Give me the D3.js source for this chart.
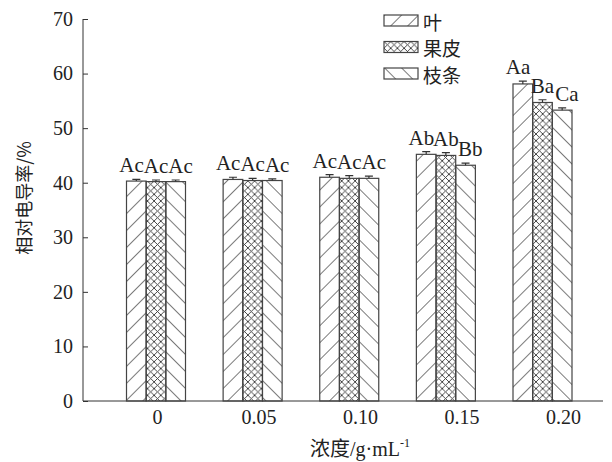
<!DOCTYPE html>
<html>
<head>
<meta charset="utf-8">
<script src="https://cdn.jsdelivr.net/npm/d3@7"></script>
<style>
  body { margin: 0; background: #fff; }
  svg { display: block; }
</style>
</head>
<body>
<svg id="chart" width="612" height="462"></svg>
<script>
// Data
const categories = ["0", "0.05", "0.10", "0.15", "0.20"];
const seriesNames = ["叶", "果皮", "枝条"];
const leafValues = [40.3, 40.6, 41.0, 45.2, 58.1];
const peelValues = [40.2, 40.4, 40.8, 45.0, 54.7];
const branchValues = [40.2, 40.4, 40.8, 43.2, 53.3];
const leafErrors = [0.3, 0.4, 0.5, 0.5, 0.5];
const peelErrors = [0.3, 0.4, 0.5, 0.5, 0.5];
const branchErrors = [0.3, 0.3, 0.4, 0.4, 0.4];
const leafLetters = ["Ac", "Ac", "Ac", "Ab", "Aa"];
const peelLetters = ["Ac", "Ac", "Ac", "Ab", "Ba"];
const branchLetters = ["Ac", "Ac", "Ac", "Bb", "Ca"];
const yTicks = [0, 10, 20, 30, 40, 50, 60, 70];

const series = [
  { name: seriesNames[0], values: leafValues, errors: leafErrors, letters: leafLetters, pattern: "url(#hatch-fwd)" },
  { name: seriesNames[1], values: peelValues, errors: peelErrors, letters: peelLetters, pattern: "url(#hatch-cross)" },
  { name: seriesNames[2], values: branchValues, errors: branchErrors, letters: branchLetters, pattern: "url(#hatch-back)" }
];

const ink = "#333";
const serif = "'Liberation Serif', 'Times New Roman', serif";
const cjk = "'Noto Sans CJK SC', 'Noto Sans', sans-serif";

const svg = d3.select("#chart");

// Hatch patterns
const defs = svg.append("defs");
defs.append("pattern")
  .attr("id", "hatch-fwd")
  .attr("patternUnits", "userSpaceOnUse")
  .attr("width", 12).attr("height", 12)
  .attr("patternTransform", "rotate(45)")
  .append("line")
  .attr("x1", 0).attr("y1", 0).attr("x2", 0).attr("y2", 12)
  .attr("stroke", ink).attr("stroke-width", 1.3);

defs.append("pattern")
  .attr("id", "hatch-back")
  .attr("patternUnits", "userSpaceOnUse")
  .attr("width", 12).attr("height", 12)
  .attr("patternTransform", "rotate(-45)")
  .append("line")
  .attr("x1", 0).attr("y1", 0).attr("x2", 0).attr("y2", 12)
  .attr("stroke", ink).attr("stroke-width", 1.3);

const cross = defs.append("pattern")
  .attr("id", "hatch-cross")
  .attr("patternUnits", "userSpaceOnUse")
  .attr("width", 6.7).attr("height", 6.7);
cross.append("path")
  .attr("d", "M0,0L6.7,6.7M0,6.7L6.7,0")
  .attr("stroke", ink).attr("stroke-width", 0.9)
  .attr("fill", "none");

// Scales (tick labels in the source sit slightly right of the bar groups)
const y = d3.scaleLinear().domain([0, 70]).range([401, 19]);
const x = d3.scalePoint().domain(categories).range([156, 542.5]);
const xLabel = d3.scalePoint().domain(categories).range([157, 563]);
const xInner = d3.scaleBand().domain(seriesNames).range([-29.5, 29.5]);
const letterStep = 24.5;

// Y axis
const yAxis = svg.append("g")
  .attr("transform", "translate(83,0)")
  .call(d3.axisRight(y).tickValues(yTicks).tickSize(5).tickFormat(d3.format("d")));
yAxis.select(".domain").attr("stroke", ink).attr("d", "M0,19V401");
yAxis.selectAll(".tick line").attr("stroke", ink);
yAxis.selectAll(".tick text")
  .attr("x", -10)
  .attr("text-anchor", "end")
  .style("font-family", serif)
  .style("font-size", "20px")
  .attr("fill", "#222");

// X axis
const xAxis = svg.append("g")
  .attr("transform", "translate(0,401)")
  .call(d3.axisBottom(xLabel).tickSize(0).tickPadding(9));
xAxis.select(".domain").attr("stroke", ink).attr("d", "M83,0H603");
xAxis.selectAll(".tick text")
  .style("font-family", serif)
  .style("font-size", "20px")
  .attr("fill", "#222");

// Bars
const groups = svg.append("g").selectAll("g")
  .data(series)
  .join("g");

groups.selectAll("rect")
  .data((s) => categories.map((c, i) => ({ c, v: s.values[i], s })))
  .join("rect")
  .attr("x", (d) => x(d.c) + xInner(d.s.name))
  .attr("y", (d) => y(d.v))
  .attr("width", xInner.bandwidth())
  .attr("height", (d) => y(0) - y(d.v))
  .attr("fill", (d) => d.s.pattern)
  .attr("stroke", "#444")
  .attr("stroke-width", 1.2);

// Error bars
groups.selectAll("path.err")
  .data((s) => categories.map((c, i) => ({ c, v: s.values[i], e: s.errors[i], s })))
  .join("path")
  .attr("class", "err")
  .attr("d", (d) => {
    const cx = x(d.c) + xInner(d.s.name) + xInner.bandwidth() / 2;
    return `M${cx},${y(d.v)}V${y(d.v + d.e)}M${cx - 4},${y(d.v + d.e)}H${cx + 4}`;
  })
  .attr("stroke", ink)
  .attr("stroke-width", 1.2)
  .attr("fill", "none");

// Significance letters, set side by side above each group
groups.selectAll("text.sig")
  .data((s, si) => categories.map((c, i) => ({ c, v: s.values[i], e: s.errors[i], t: s.letters[i], si })))
  .join("text")
  .attr("class", "sig")
  .attr("x", (d) => x(d.c) + (d.si - 1) * letterStep)
  .attr("y", (d) => y(d.v + d.e) - 7)
  .attr("text-anchor", "middle")
  .style("font-family", serif)
  .style("font-size", "21px")
  .attr("fill", "#222")
  .text((d) => d.t);

// Legend
const legend = svg.append("g").selectAll("g")
  .data(series)
  .join("g")
  .attr("transform", (d, i) => `translate(384,${15 + i * 26.5})`);
legend.append("rect")
  .attr("width", 34).attr("height", 11)
  .attr("fill", (d) => d.pattern)
  .attr("stroke", "#444")
  .attr("stroke-width", 1.2);
legend.append("text")
  .attr("x", 39).attr("y", 6)
  .attr("dominant-baseline", "central")
  .style("font-family", cjk)
  .style("font-size", "19px")
  .attr("fill", "#222")
  .text((d) => d.name);

// Axis titles
svg.append("text")
  .attr("transform", "translate(31,198) rotate(-90)")
  .attr("text-anchor", "middle")
  .style("font-family", cjk)
  .style("font-size", "18px")
  .attr("fill", "#222")
  .text("相对电导率/%");

const xTitle = svg.append("text")
  .attr("x", 360).attr("y", 456)
  .attr("text-anchor", "middle")
  .style("font-size", "20px")
  .attr("fill", "#222");
xTitle.append("tspan").style("font-family", cjk).text("浓度");
xTitle.append("tspan").style("font-family", serif).text("/g·mL");
xTitle.append("tspan").style("font-family", serif).style("font-size", "12px").attr("dy", -9).text("-1");
</script>
</body>
</html>
